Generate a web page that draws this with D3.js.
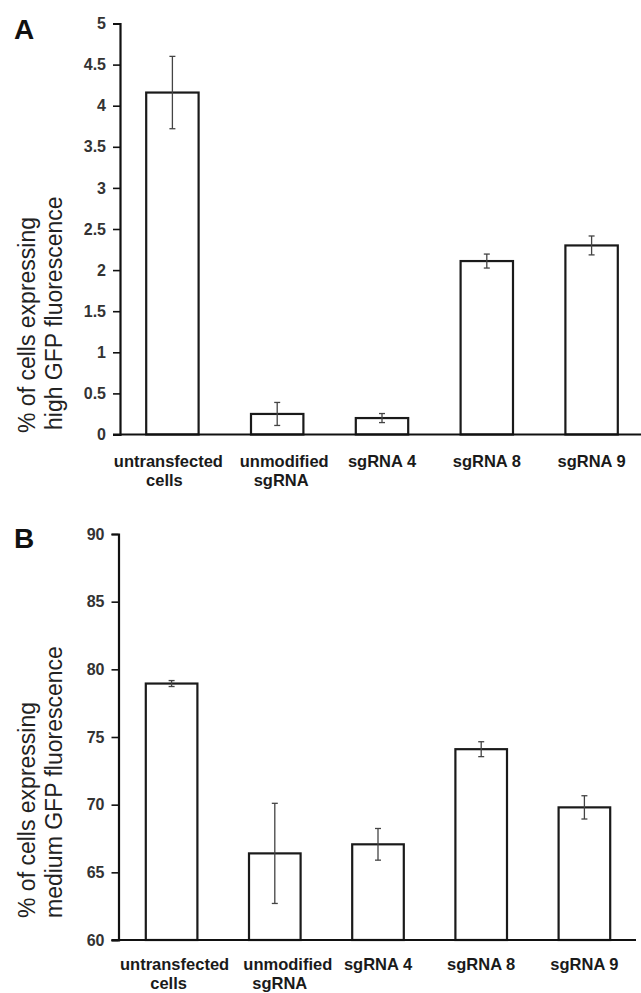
<!DOCTYPE html>
<html>
<head>
<meta charset="utf-8">
<script src="https://cdn.jsdelivr.net/npm/d3@7"></script>
<style>
    body { margin: 0; background: #fff; }
    svg text { font-family: "Liberation Sans", Arial, sans-serif; }
</style>
</head>
<body>
<div id="chart"></div>
<script>
// categories, same for both panels
var categories = ["untransfected cells", "unmodified sgRNA", "sgRNA 4", "sgRNA 8", "sgRNA 9"];
var catLines = [["untransfected", "cells"], ["unmodified", "sgRNA"], ["sgRNA 4"], ["sgRNA 8"], ["sgRNA 9"]];

// panel A - high GFP
var highValues = [4.16, 0.25, 0.20, 2.11, 2.30];
var highErrors = [0.44, 0.14, 0.055, 0.085, 0.115];
var highTicks = [0, 0.5, 1, 1.5, 2, 2.5, 3, 3.5, 4, 4.5, 5];

// panel B - medium GFP
var medValues = [78.95, 66.4, 67.07, 74.1, 69.8];
var medErrors = [0.22, 3.7, 1.17, 0.55, 0.86];
var medTicks = [60, 65, 70, 75, 80, 85, 90];

var svg = d3.select("#chart").append("svg")
    .attr("width", 641)
    .attr("height", 993);

drawPanel({
    letter: "A", letterY: 39,
    values: highValues, errors: highErrors, ticks: highTicks,
    domain: [0, 5], yRange: [434.5, 23.5],
    axisX: 120, xRange: [120, 644], axisEnd: 641,
    title: ["% of cells expressing", "high GFP fluorescence"],
    titleStart: [433, 430],
    labelY: 32,
    nudge: [[-4, -8], [7, 4], [0], [0], [0]]   // label wrap offsets as in the original
});

drawPanel({
    letter: "B", letterY: 548,
    values: medValues, errors: medErrors, ticks: medTicks,
    domain: [60, 90], yRange: [940, 534],
    axisX: 118.5, xRange: [120, 636], axisEnd: 636,
    title: ["% of cells expressing", "medium GFP fluorescence"],
    titleStart: [918, 918],
    labelY: 30,
    nudge: [[3, -3], [13, 5], [0], [0], [0]]
});

function drawPanel(p) {
    var g = svg.append("g");

    var y = d3.scaleLinear().domain(p.domain).range(p.yRange);
    var x = d3.scaleBand().domain(categories).range(p.xRange)
        .paddingInner(0.5).paddingOuter(0.25);
    var cx = function(i) { return x(categories[i]) + x.bandwidth() / 2; };

    // panel letter
    g.append("text")
        .attr("x", 14).attr("y", p.letterY)
        .attr("font-size", 28).attr("font-weight", "bold")
        .attr("fill", "#111")
        .text(p.letter);

    // y axis
    var yAxis = g.append("g")
        .attr("transform", "translate(" + p.axisX + ",0)")
        .call(d3.axisLeft(y).tickValues(p.ticks).tickFormat(d3.format("~g"))
            .tickSize(7).tickPadding(7));
    yAxis.select(".domain").attr("stroke", "#111").attr("stroke-width", 2.2);
    yAxis.selectAll(".tick line").attr("stroke", "#111").attr("stroke-width", 1.6);
    yAxis.selectAll(".tick text")
        .attr("font-size", 16).attr("font-weight", "bold").attr("fill", "#333")
        .attr("font-family", "Liberation Sans, Arial, sans-serif");

    // y title, two lines, rotated
    p.title.forEach(function(t, i) {
        var tx = 35 + i * 27;
        g.append("text")
            .attr("transform", "translate(" + tx + "," + p.titleStart[i] + ") rotate(-90)")
            .attr("font-size", 23).attr("fill", "#222")
            .text(t);
    });

    // bars
    g.selectAll("rect.bar")
        .data(p.values)
        .enter()
        .append("rect")
        .attr("class", "bar")
        .attr("x", function(d, i) { return x(categories[i]); })
        .attr("width", x.bandwidth())
        .attr("y", function(d) { return y(d); })
        .attr("height", function(d) { return y(p.domain[0]) - y(d); })
        .attr("fill", "#fff")
        .attr("stroke", "#1a1a1a")
        .attr("stroke-width", 2.2);

    // error bars
    var eb = g.selectAll("g.err")
        .data(p.values)
        .enter()
        .append("g")
        .attr("class", "err")
        .attr("stroke", "#444")
        .attr("stroke-width", 1.3);
    eb.append("line")
        .attr("x1", function(d, i) { return cx(i); })
        .attr("x2", function(d, i) { return cx(i); })
        .attr("y1", function(d, i) { return y(d + p.errors[i]); })
        .attr("y2", function(d, i) { return y(d - p.errors[i]); });
    [1, -1].forEach(function(s) {
        eb.append("line")
            .attr("x1", function(d, i) { return cx(i) - 3; })
            .attr("x2", function(d, i) { return cx(i) + 3; })
            .attr("y1", function(d, i) { return y(d + s * p.errors[i]); })
            .attr("y2", function(d, i) { return y(d + s * p.errors[i]); });
    });

    // x axis line
    g.append("line")
        .attr("x1", p.axisX - 7).attr("x2", p.axisEnd)
        .attr("y1", y(p.domain[0])).attr("y2", y(p.domain[0]))
        .attr("stroke", "#111").attr("stroke-width", 2.2);

    // category labels
    var labels = g.selectAll("text.cat")
        .data(catLines)
        .enter()
        .append("text")
        .attr("class", "cat")
        .attr("text-anchor", "middle")
        .attr("font-size", 16.5)
        .attr("font-weight", "bold")
        .attr("fill", "#1a1a1a")
        .attr("y", y(p.domain[0]) + p.labelY);
    labels.each(function(lines, ci) {
        d3.select(this).selectAll("tspan")
            .data(lines)
            .enter()
            .append("tspan")
            .attr("x", function(d, li) { return cx(ci) + (p.nudge[ci][li] || 0); })
            .attr("dy", function(d, li) { return li === 0 ? 0 : 19; })
            .text(function(d) { return d; });
    });
}
</script>
</body>
</html>
